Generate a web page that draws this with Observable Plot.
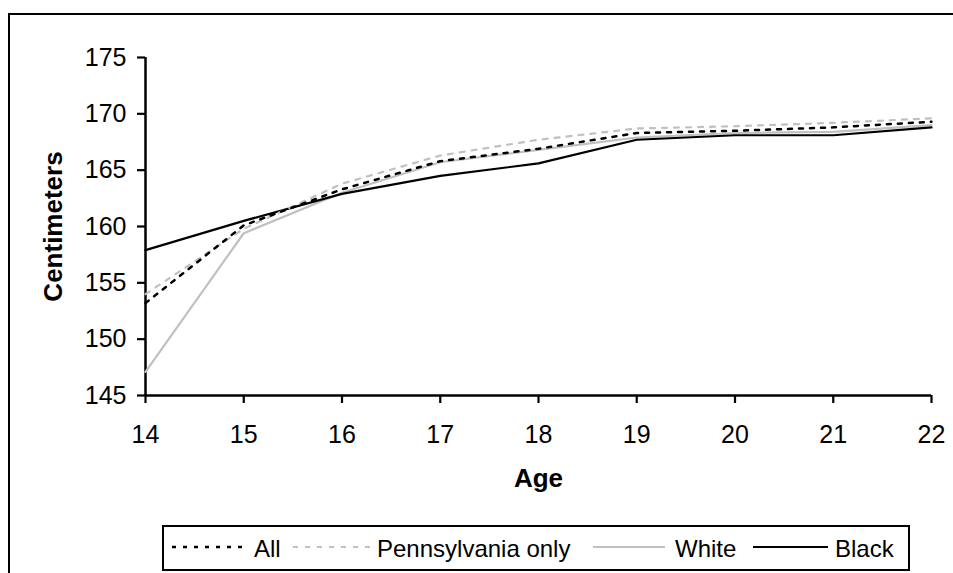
<!DOCTYPE html>
<html><head><meta charset="utf-8">
<script src="https://cdn.jsdelivr.net/npm/d3@7"></script>
<script src="https://cdn.jsdelivr.net/npm/@observablehq/plot@0.6"></script>
<style>
html,body{margin:0;padding:0;background:#fff;overflow:hidden;width:953px;height:573px;}
body{position:relative;font-family:"Liberation Sans",Arial,sans-serif;color:#000;}
#chart{position:absolute;left:0;top:0;}
#frame{position:absolute;left:8px;top:12.5px;width:1000px;height:600px;border-top:2.6px solid #000;border-left:2.6px solid #000;}
#legend{position:absolute;left:162px;top:525px;width:748px;height:46px;box-sizing:border-box;border:2.5px solid #000;background:#fff;}
.sw{position:absolute;top:544px;height:6px;overflow:visible;}
.lt{position:absolute;top:536.7px;font-size:24px;line-height:24px;white-space:nowrap;}
</style>
</head><body>
<div id="chart"></div>
<div id="frame"></div>
<div id="legend"></div>
<script>
const ages = [14, 15, 16, 17, 18, 19, 20, 21, 22];
const yTicks = [145, 150, 155, 160, 165, 170, 175];
const allValues   = [153.2, 160.1, 163.3, 165.8, 166.9, 168.3, 168.5, 168.8, 169.3];
const paValues    = [154.0, 159.8, 163.8, 166.3, 167.7, 168.7, 168.9, 169.2, 169.6];
const whiteValues = [147.1, 159.4, 163.0, 165.7, 166.8, 167.9, 168.3, 168.4, 169.0];
const blackValues = [157.9, 160.5, 162.9, 164.5, 165.6, 167.7, 168.1, 168.1, 168.8];
const seriesNames = ["All", "Pennsylvania only", "White", "Black"];

const toRows = vals => ages.map((a, i) => ({age: a, cm: vals[i]}));

const chart = Plot.plot({
  width: 953,
  height: 520,
  marginLeft: 145,
  marginRight: 22,
  marginTop: 57,
  marginBottom: 125,
  x: {domain: [14, 22]},
  y: {domain: [145, 175]},
  style: {fontFamily: '"Liberation Sans", Arial, sans-serif', fontSize: "25px", color: "#000", background: "transparent", overflow: "visible"},
  marks: [
    Plot.axisY({ticks: yTicks, tickSize: 8, tickPadding: 11, label: null, stroke: "#000", strokeWidth: 2.2, tickFormat: d => String(d)}),
    Plot.axisX({ticks: ages, tickSize: 8, tickPadding: 22, label: null, stroke: "#000", strokeWidth: 2.2, tickFormat: d => String(d)}),
    Plot.ruleX([14], {stroke: "#000", strokeWidth: 2.5}),
    Plot.ruleY([145], {stroke: "#000", strokeWidth: 2.5}),
    Plot.line(toRows(whiteValues), {x: "age", y: "cm", stroke: "#c0c0c0", strokeWidth: 2.2}),
    Plot.line(toRows(blackValues), {x: "age", y: "cm", stroke: "#000", strokeWidth: 2.2}),
    Plot.line(toRows(paValues), {x: "age", y: "cm", stroke: "#c0c0c0", strokeWidth: 2.2, strokeDasharray: "5,7"}),
    Plot.line(toRows(allValues), {x: "age", y: "cm", stroke: "#000", strokeWidth: 2.5, strokeDasharray: "4,7"}),
    Plot.text(["Centimeters"], {frameAnchor: "left", dx: -92, rotate: -90, textAnchor: "middle", lineAnchor: "middle", fontWeight: "bold", fontSize: 26}),
    Plot.text(["Age"], {frameAnchor: "bottom", dy: 83, textAnchor: "middle", lineAnchor: "middle", fontWeight: "bold", fontSize: 26})
  ]
});
document.getElementById("chart").appendChild(chart);

// legend
const legendItems = [
  {name: seriesNames[0], stroke: "#000", width: 2.5, dash: "4,7", x1: 172, x2: 249, tx: 254},
  {name: seriesNames[1], stroke: "#c0c0c0", width: 2.2, dash: "5,7", x1: 293, x2: 370, tx: 377},
  {name: seriesNames[2], stroke: "#c0c0c0", width: 2.2, dash: null, x1: 593, x2: 665, tx: 675},
  {name: seriesNames[3], stroke: "#000", width: 2.2, dash: null, x1: 753, x2: 828, tx: 835}
];
for (const it of legendItems) {
  const w = it.x2 - it.x1;
  const s = document.createElementNS("http://www.w3.org/2000/svg", "svg");
  s.setAttribute("class", "sw");
  s.setAttribute("width", w);
  s.setAttribute("height", 6);
  s.style.left = it.x1 + "px";
  const l = document.createElementNS("http://www.w3.org/2000/svg", "line");
  l.setAttribute("x1", 0); l.setAttribute("x2", w);
  l.setAttribute("y1", 3); l.setAttribute("y2", 3);
  l.setAttribute("stroke", it.stroke);
  l.setAttribute("stroke-width", it.width);
  if (it.dash) l.setAttribute("stroke-dasharray", it.dash);
  s.appendChild(l);
  document.body.appendChild(s);
  const t = document.createElement("span");
  t.className = "lt";
  t.style.left = it.tx + "px";
  t.textContent = it.name;
  document.body.appendChild(t);
}
</script>
</body></html>
